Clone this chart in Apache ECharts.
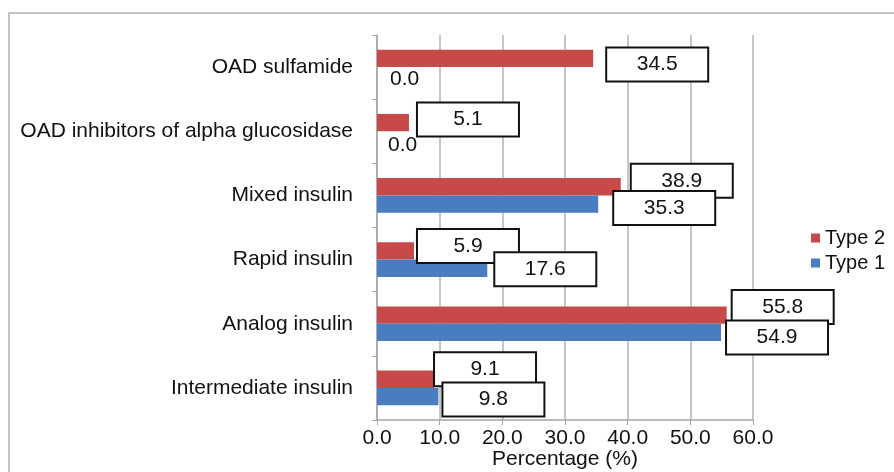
<!DOCTYPE html>
<html>
<head>
<meta charset="utf-8">
<script src="https://cdn.jsdelivr.net/npm/echarts@6/dist/echarts.min.js"></script>
<style>
html,body{margin:0;padding:0;background:#fff;}
#chart{width:894px;height:472px;}
</style>
</head>
<body>
<div id="chart"></div>
<script>
// Categories (bottom to top on the y axis)
const categories = ['Intermediate insulin', 'Analog insulin', 'Rapid insulin', 'Mixed insulin', 'OAD inhibitors of alpha glucosidase', 'OAD sulfamide'];
const type2Values = [9.1, 55.8, 5.9, 38.9, 5.1, 34.5];
const type1Values = [9.8, 54.9, 17.6, 35.3, 0.0, 0.0];
const xTicks = [0, 10, 20, 30, 40, 50, 60];

// Manual label placement (px offsets from bar end), like the hand-moved labels of the original
const type2LabelOffsets = [[1, -10], [6, -8], [4, -5], [11, -6], [9, -3], [14, 6]];
const type1LabelOffsets = [[5, 3], [6, 5], [8, 1], [16, 4], [11, 5], [13, 3]];

const FONT = '"Liberation Sans", Arial, sans-serif';
const FS = 21;

function buildData(values, offsets) {
  return values.map((v, i) => {
    const item = { value: v, label: { offset: offsets[i] } };
    if (v === 0) {
      item.label.formatter = '{z|0.0}';
      item.label.backgroundColor = 'transparent';
      item.label.borderWidth = 0;
      item.label.padding = 0;
    }
    return item;
  });
}

const boxLabel = {
  show: true,
  position: 'right',
  distance: 0,
  formatter: p => '{b|' + p.value.toFixed(1) + '}',
  backgroundColor: '#fff',
  borderColor: '#111',
  borderWidth: 2,
  padding: [4, 0, 4, 0],
  rich: {
    b: { width: 100, align: 'center', fontSize: FS, lineHeight: 24, fontFamily: FONT, color: '#111' },
    z: { fontSize: FS, lineHeight: 24, fontFamily: FONT, color: '#111' }
  }
};

const chart = echarts.init(document.getElementById('chart'), null, { renderer: 'canvas' });
chart.setOption({
  backgroundColor: '#fff',
  animation: false,
  textStyle: { fontFamily: FONT },
  graphic: [{
    type: 'rect',
    shape: { x: 9, y: 13, width: 900, height: 480 },
    style: { fill: 'none', stroke: '#c4c4c4', lineWidth: 2 },
    silent: true
  }],
  grid: { left: 377, right: 141, top: 35, bottom: 52, containLabel: false, outerBoundsMode: 'none' },
  legend: {
    orient: 'vertical',
    left: 806,
    top: 223,
    itemWidth: 9,
    itemHeight: 9,
    itemGap: 5,
    icon: 'rect',
    data: ['Type 2', 'Type 1'],
    textStyle: { fontSize: 20, fontFamily: FONT, color: '#111' }
  },
  xAxis: {
    type: 'value',
    min: xTicks[0],
    max: xTicks[xTicks.length - 1],
    interval: 10,
    name: 'Percentage (%)',
    nameLocation: 'middle',
    nameGap: 29,
    nameMoveOverlap: false,
    nameTextStyle: { fontSize: FS, fontFamily: FONT, color: '#111' },
    axisLine: { show: true, lineStyle: { color: '#a6a6a6', width: 1.5 } },
    axisTick: { show: true, length: 5, lineStyle: { color: '#a6a6a6' } },
    axisLabel: { fontSize: FS, fontFamily: FONT, color: '#111', margin: 8, formatter: v => v.toFixed(1) },
    splitLine: { show: true, lineStyle: { color: '#b3b3b3', width: 1.5 } }
  },
  yAxis: {
    type: 'category',
    data: categories,
    axisLine: { show: true, lineStyle: { color: '#a6a6a6', width: 1.5 } },
    axisTick: { show: true, length: 5, lineStyle: { color: '#a6a6a6' } },
    axisLabel: { fontSize: FS, fontFamily: FONT, color: '#111', margin: 24 },
    splitLine: { show: false }
  },
  series: [
    {
      name: 'Type 2',
      type: 'bar',
      data: buildData(type2Values, type2LabelOffsets),
      itemStyle: { color: '#c8494a' },
      barGap: '0%',
      barCategoryGap: '46%',
      label: boxLabel
    },
    {
      name: 'Type 1',
      type: 'bar',
      data: buildData(type1Values, type1LabelOffsets),
      itemStyle: { color: '#4a7dc0' },
      barGap: '0%',
      barCategoryGap: '46%',
      label: boxLabel
    }
  ]
});
</script>
</body>
</html>
